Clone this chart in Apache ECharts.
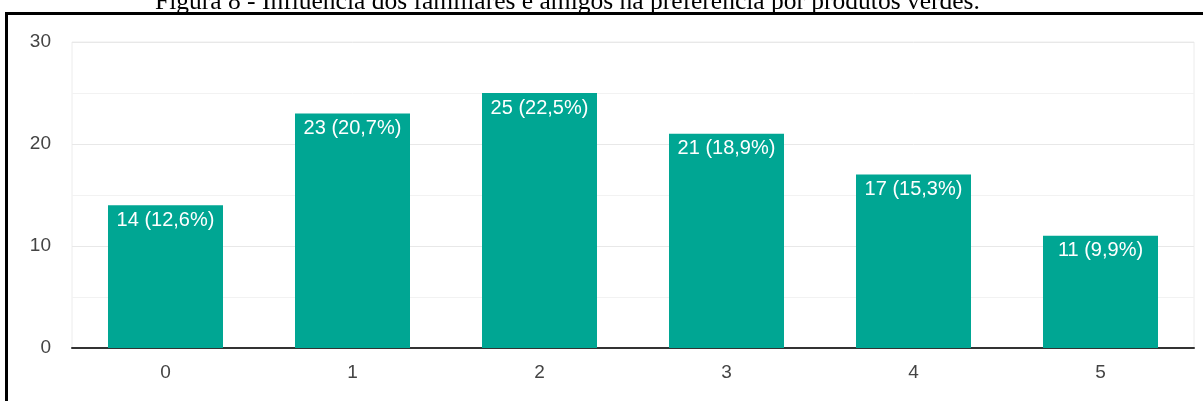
<!DOCTYPE html>
<html>
<head>
<meta charset="utf-8">
<script src="https://cdn.jsdelivr.net/npm/echarts@6/dist/echarts.min.js"></script>
<style>
  html, body { margin: 0; padding: 0; background: #fff; }
  #chart { width: 1203px; height: 401px; }
</style>
</head>
<body>
<div id="chart"></div>
<script>
// Answer options (0–5) and how many respondents chose each
const categories = ['0', '1', '2', '3', '4', '5'];
const counts = [14, 23, 25, 21, 17, 11];
const shares = ['12,6%', '20,7%', '22,5%', '18,9%', '15,3%', '9,9%'];
const yTicks = [0, 10, 20, 30];

const captionText = 'Figura 8 - Influência dos familiares e amigos na preferência por produtos verdes.';

const chart = echarts.init(document.getElementById('chart'), null, { renderer: 'canvas' });

chart.setOption({
  animation: false,
  backgroundColor: '#ffffff',
  title: {
    text: captionText,
    left: 155,
    top: -11,
    padding: 0,
    textStyle: {
      fontFamily: 'Liberation Serif',
      fontSize: 25.5,
      fontWeight: 'normal',
      color: '#000000'
    }
  },
  graphic: [
    // figure frame: top and left rules
    { type: 'rect', shape: { x: 5, y: 12, width: 1198, height: 3 }, style: { fill: '#000' }, z: 10 },
    { type: 'rect', shape: { x: 5, y: 12, width: 3, height: 400 }, style: { fill: '#000' }, z: 10 }
  ],
  grid: {
    left: 72,
    right: 9,
    top: 42,
    bottom: 53,
    show: true,
    borderColor: '#ececec',
    borderWidth: 1
  },
  xAxis: {
    type: 'category',
    data: categories,
    axisTick: { show: false },
    axisLine: { show: true, lineStyle: { color: '#333333', width: 2 } },
    axisLabel: {
      margin: 15,
      color: '#444444',
      fontFamily: 'Liberation Sans',
      fontSize: 19
    }
  },
  yAxis: {
    type: 'value',
    min: yTicks[0],
    max: yTicks[yTicks.length - 1],
    interval: 10,
    axisLine: { show: false },
    axisTick: { show: false },
    axisLabel: {
      margin: 21,
      color: '#444444',
      fontFamily: 'Liberation Sans',
      fontSize: 19
    },
    splitLine: { lineStyle: { color: '#e8e8e8', width: 1 } },
    minorTick: { show: false, splitNumber: 2 },
    minorSplitLine: { show: true, lineStyle: { color: '#f2f2f2', width: 1 } }
  },
  series: [{
    type: 'bar',
    data: counts,
    barWidth: '61.5%',
    itemStyle: { color: '#00a693' },
    label: {
      show: true,
      position: 'insideTop',
      distance: 5,
      color: '#ffffff',
      fontFamily: 'Liberation Sans',
      fontSize: 20,
      formatter: p => counts[p.dataIndex] + ' (' + shares[p.dataIndex] + ')'
    }
  }]
});
</script>
</body>
</html>
